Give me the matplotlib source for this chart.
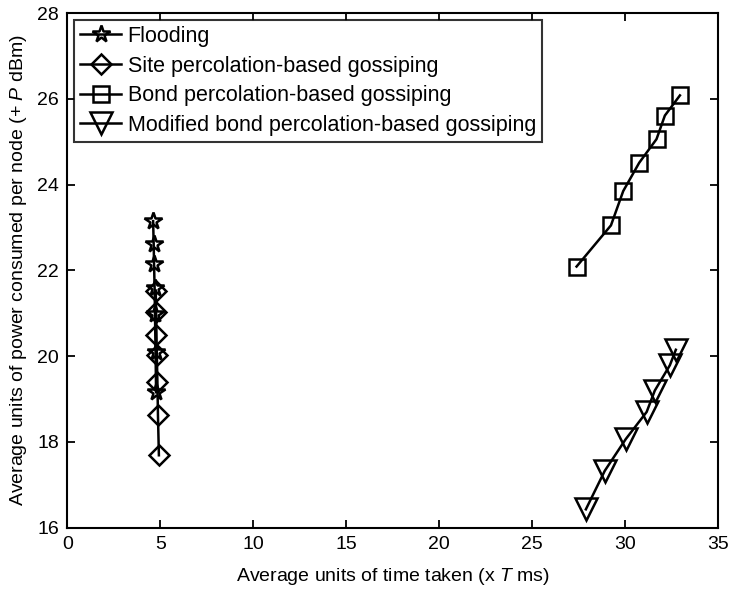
import matplotlib
matplotlib.use("Agg")
import matplotlib.pyplot as plt

# Fonts (MATLAB-like Helvetica look)
plt.rcParams["font.family"] = ["Liberation Sans", "DejaVu Sans"]
plt.rcParams["mathtext.fontset"] = "custom"
plt.rcParams["mathtext.rm"] = "Liberation Sans"
plt.rcParams["mathtext.it"] = "Liberation Sans:italic"

# Data
flood_x = [4.62, 4.65, 4.67, 4.70, 4.72, 4.75, 4.78]
flood_y = [23.15, 22.61, 22.14, 21.58, 20.99, 20.10, 19.16]

site_x = [4.76, 4.78, 4.80, 4.82, 4.85, 4.88, 4.93]
site_y = [21.53, 21.04, 20.50, 20.03, 19.40, 18.62, 17.69]

bond_x = [27.40, 29.25, 29.91, 30.77, 31.70, 32.15, 32.96]
bond_y = [22.09, 23.05, 23.85, 24.51, 25.06, 25.61, 26.08]

mod_x = [27.90, 28.92, 30.05, 31.17, 31.61, 32.42, 32.74]
mod_y = [16.43, 17.33, 18.07, 18.70, 19.20, 19.79, 20.15]

labels = ["Flooding",
          "Site percolation-based gossiping",
          "Bond percolation-based gossiping",
          "Modified bond percolation-based gossiping"]

x_ticks = [0, 5, 10, 15, 20, 25, 30, 35]
y_ticks = [16, 18, 20, 22, 24, 26, 28]

fig = plt.figure(figsize=(7.31, 5.93), dpi=100)
ax = fig.add_axes([0.092, 0.110, 0.890, 0.868])

style = dict(color="black", linewidth=1.8, markerfacecolor="none",
             markeredgecolor="black", markeredgewidth=1.8)

ax.plot(flood_x, flood_y, marker="*", markersize=13, label=labels[0], **style)
ax.plot(site_x, site_y, marker="D", markersize=10, label=labels[1], **style)
ax.plot(bond_x, bond_y, marker="s", markersize=12, label=labels[2], **style)
ax.plot(mod_x, mod_y, marker="v", markersize=16, label=labels[3], **style)

ax.set_xlim(0, 35)
ax.set_ylim(16, 28)
ax.set_xticks(x_ticks)
ax.set_yticks(y_ticks)

ax.tick_params(direction="in", top=True, right=True, length=6,
               width=1.3, labelsize=14, pad=6)
for s in ["bottom", "top", "right", "left"]:
    ax.spines[s].set_linewidth(1.5)

ax.set_xlabel(r"Average units of time taken (x $T$ ms)", fontsize=14, labelpad=9)
ax.set_ylabel(r"Average units of power consumed per node (+ $P$ dBm)",
              fontsize=14, labelpad=6)

leg = ax.legend(loc="upper left", fontsize=15.5, frameon=True, fancybox=False,
                edgecolor="black", handlelength=1.9, handletextpad=0.3,
                borderaxespad=0.3, labelspacing=0.4, borderpad=0.3)
leg.get_frame().set_linewidth(1.5)

fig.savefig("out.png", dpi=100)
